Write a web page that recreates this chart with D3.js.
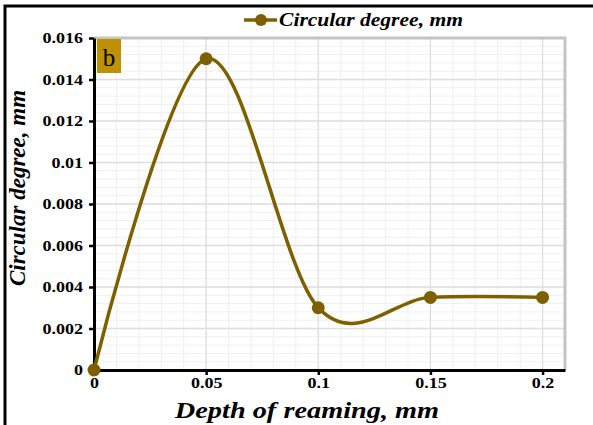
<!DOCTYPE html>
<html>
<head>
<meta charset="utf-8">
<script src="https://cdn.jsdelivr.net/npm/d3@7"></script>
<style>
  body { margin: 0; background: #fff; }
  text { font-family: "Liberation Serif", "DejaVu Serif", serif; }
</style>
</head>
<body>
<script>
const depth = [0, 0.05, 0.1, 0.15, 0.2];
const circularDegree = [0, 0.015, 0.003, 0.0035, 0.0035];
const xTicks = [0, 0.05, 0.1, 0.15, 0.2];
const yTicks = [0, 0.002, 0.004, 0.006, 0.008, 0.01, 0.012, 0.014, 0.016];
const seriesName = "Circular degree, mm";

const W = 593, H = 425;
const m = { left: 94, right: 28, top: 38, bottom: 55 };
const color = "#7f6000";

const svg = d3.select('body').append('svg').attr('width', W).attr('height', H);

// stretch text horizontally, the source picture is a bit wide
function widen(sel, k) {
  sel.each(function () {
    const w = this.getComputedTextLength();
    d3.select(this).attr('textLength', w * k).attr('lengthAdjust', 'spacingAndGlyphs');
  });
}

// outer frame (only top/left visible in crop)
svg.append('path').attr('d', `M5,${H} V6 H${W}`).attr('fill', 'none')
  .attr('stroke', '#000').attr('stroke-width', 3);

const x = d3.scaleLinear().domain([0, 0.21]).range([m.left, W - m.right]);
const y = d3.scaleLinear().domain([0, 0.016]).range([H - m.bottom, m.top]);

// minor grid
const g = svg.append('g');
g.selectAll('.vmin').data(d3.range(1, 21).map(i => i * 0.01)).enter().append('line')
  .attr('x1', d => x(d)).attr('x2', d => x(d)).attr('y1', y(0)).attr('y2', y(0.016))
  .attr('stroke', '#f0f0f0').attr('stroke-width', 1);
g.selectAll('.hmin').data(d3.range(1, 40).map(i => i * 0.0004)).enter().append('line')
  .attr('x1', x(0)).attr('x2', x(0.21)).attr('y1', d => y(d)).attr('y2', d => y(d))
  .attr('stroke', '#f0f0f0').attr('stroke-width', 1);
// major grid
g.selectAll('.vmaj').data(xTicks.slice(1)).enter().append('line')
  .attr('x1', d => x(d)).attr('x2', d => x(d)).attr('y1', y(0)).attr('y2', y(0.016))
  .attr('stroke', '#dedede').attr('stroke-width', 1.3);
g.selectAll('.hmaj').data(yTicks.slice(1)).enter().append('line')
  .attr('x1', x(0)).attr('x2', x(0.21)).attr('y1', d => y(d)).attr('y2', d => y(d))
  .attr('stroke', '#dedede').attr('stroke-width', 1.3);

// plot border top/right in gray
svg.append('path').attr('d', `M${x(0)},${y(0.016)} H${x(0.21)} V${y(0)}`)
  .attr('fill', 'none').attr('stroke', '#c4c4c4').attr('stroke-width', 3);

// axes
const xAxis = svg.append('g').attr('transform', `translate(0,${y(0)})`)
  .call(d3.axisBottom(x).tickValues(xTicks).tickFormat(d => String(d)).tickSize(5).tickSizeOuter(0));
const yAxis = svg.append('g').attr('transform', `translate(${x(0)},0)`)
  .call(d3.axisLeft(y).tickValues(yTicks).tickFormat(d => String(d)).tickSize(5).tickSizeOuter(0));
[xAxis, yAxis].forEach(a => {
  a.select('.domain').attr('stroke', '#000').attr('stroke-width', 3);
  a.selectAll('.tick line').attr('stroke', '#000').attr('stroke-width', 2.5);
  a.selectAll('text').attr('font-family', '"Liberation Serif", serif')
    .attr('font-weight', 'bold').attr('font-size', 15).attr('fill', '#000');
});
xAxis.selectAll('text').attr('y', 7).attr('dy', '0.71em');
yAxis.selectAll('text').attr('x', -11);
widen(xAxis.selectAll('text'), 1.2);
widen(yAxis.selectAll('text'), 1.2);

// label b
svg.append('rect').attr('x', x(0) + 3).attr('y', y(0.016) + 1).attr('width', 24).attr('height', 34)
  .attr('fill', '#bf9000');
svg.append('text').attr('x', x(0) + 15).attr('y', y(0.016) + 28).attr('text-anchor', 'middle')
  .attr('font-family', '"DejaVu Sans", sans-serif').attr('font-size', 25).attr('fill', '#000').text('b');

// series
const pts = depth.map((d, i) => [d, circularDegree[i]]);
const line = d3.line().x(d => x(d[0])).y(d => y(d[1])).curve(d3.curveCardinal.tension(0));
svg.append('path').datum(pts).attr('d', line).attr('fill', 'none')
  .attr('stroke', color).attr('stroke-width', 3.5);
svg.selectAll('.pt').data(pts).enter().append('circle')
  .attr('cx', d => x(d[0])).attr('cy', d => y(d[1])).attr('r', 6.5).attr('fill', color);

// legend
const lg = svg.append('g').attr('transform', 'translate(244,20)');
lg.append('line').attr('x1', 0).attr('x2', 33).attr('stroke', color).attr('stroke-width', 3.5);
lg.append('circle').attr('cx', 17).attr('r', 6).attr('fill', color);
lg.append('text').attr('x', 35).attr('y', 6).attr('font-weight', 'bold').attr('font-style', 'italic')
  .attr('font-size', 19).attr('fill', '#000')
  .attr('textLength', 184).attr('lengthAdjust', 'spacingAndGlyphs')
  .text(seriesName);

// axis titles
svg.append('text').attr('x', 307).attr('y', 418).attr('text-anchor', 'middle')
  .attr('font-weight', 'bold').attr('font-style', 'italic').attr('font-size', 24).attr('fill', '#000')
  .text('Depth of reaming, mm')
  .call(widen, 1.18);
svg.append('text').attr('transform', `translate(25,188) rotate(-90)`)
  .attr('text-anchor', 'middle')
  .attr('font-weight', 'bold').attr('font-style', 'italic').attr('font-size', 23).attr('fill', '#000')
  .text(seriesName);
</script>
</body>
</html>
